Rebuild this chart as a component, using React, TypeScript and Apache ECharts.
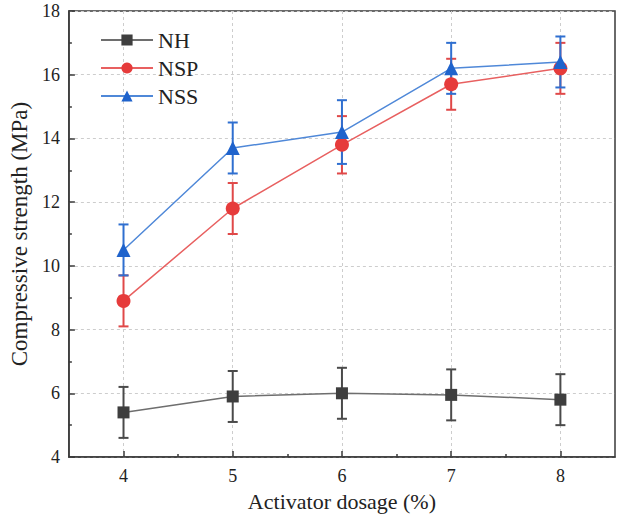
import React, { useEffect, useRef } from "react";
import * as echarts from "echarts";

const dosage = [4, 5, 6, 7, 8];
const nhMean = [5.4, 5.9, 6.0, 5.95, 5.8];
const nhErr = [0.8, 0.8, 0.8, 0.8, 0.8];
const nspMean = [8.9, 11.8, 13.8, 15.7, 16.2];
const nspErr = [0.8, 0.8, 0.9, 0.8, 0.8];
const nssMean = [10.5, 13.7, 14.2, 16.2, 16.4];
const nssErr = [0.8, 0.8, 1.0, 0.8, 0.8];
const xLabels = [4, 5, 6, 7, 8];
const xMinor = [4.5, 5.5, 6.5, 7.5];

const FONT = "Liberation Serif";

function errorSeries(name: string, mean: number[], err: number[], color: string) {
  return {
    type: "custom",
    name,
    z: 3,
    data: dosage.map((x, i) => [x, mean[i] - err[i], mean[i] + err[i]]),
    encode: { x: 0, y: [1, 2] },
    renderItem: (params: any, api: any) => {
      const x = api.value(0);
      const lo = api.coord([x, api.value(1)]);
      const hi = api.coord([x, api.value(2)]);
      const cap = 5;
      const style = { stroke: color, lineWidth: 2 };
      return {
        type: "group",
        children: [
          { type: "line", shape: { x1: lo[0], y1: lo[1], x2: hi[0], y2: hi[1] }, style },
          { type: "line", shape: { x1: lo[0] - cap, y1: lo[1], x2: lo[0] + cap, y2: lo[1] }, style },
          { type: "line", shape: { x1: hi[0] - cap, y1: hi[1], x2: hi[0] + cap, y2: hi[1] }, style },
        ],
      };
    },
  };
}

function lineSeries(name: string, mean: number[], symbol: string, size: number, markerColor: string, lineColor: string) {
  return {
    type: "line",
    name,
    z: 4,
    data: dosage.map((x, i) => [x, mean[i]]),
    symbol,
    symbolSize: size,
    showAllSymbol: true,
    itemStyle: { color: markerColor },
    lineStyle: { color: lineColor, width: 1.5 },
  };
}

export default function App() {
  const ref = useRef<HTMLDivElement>(null);
  useEffect(() => {
    if (!ref.current) return;
    const chart = echarts.init(ref.current, null, { renderer: "svg" });
    const splitStyle = { show: true, lineStyle: { color: "#cdcdcd", type: [3, 3], width: 1 } };
    chart.setOption({
      animation: false,
      backgroundColor: "#ffffff",
      textStyle: { fontFamily: FONT },
      grid: {
        left: 66,
        right: 5,
        top: 11,
        bottom: 68,
        show: true,
        borderColor: "#3a3a3a",
        borderWidth: 1.5,
        backgroundColor: "transparent",
      },
      legend: {
        orient: "vertical",
        left: 95,
        top: 24,
        itemWidth: 52,
        itemHeight: 14,
        itemGap: 6,
        data: ["NH", "NSP", "NSS"],
        textStyle: { fontFamily: FONT, fontSize: 22, color: "#222" },
      },
      xAxis: [
        {
          type: "value",
          min: 3.5,
          max: 8.5,
          name: "Activator dosage (%)",
          nameLocation: "middle",
          nameGap: 33,
          nameTextStyle: { fontFamily: FONT, fontSize: 22, color: "#222" },
          axisLine: { show: true, lineStyle: { color: "#3a3a3a", width: 1.5 } },
          axisTick: { show: true, inside: true, length: 6, customValues: xLabels, lineStyle: { color: "#3a3a3a", width: 1.5 } },
          axisLabel: { customValues: xLabels, fontFamily: FONT, fontSize: 18, color: "#222", margin: 10 },
          splitLine: splitStyle,
        },
        {
          type: "value",
          min: 3.5,
          max: 8.5,
          position: "bottom",
          axisLine: { show: false },
          axisTick: { show: true, inside: true, length: 3, customValues: xMinor, lineStyle: { color: "#3a3a3a", width: 1.5 } },
          axisLabel: { show: false },
          splitLine: { show: false },
        },
      ],
      yAxis: {
        type: "value",
        min: 4,
        max: 18,
        interval: 2,
        name: "Compressive strength (MPa)",
        nameLocation: "middle",
        nameGap: 26,
        nameTextStyle: { fontFamily: FONT, fontSize: 23, color: "#222" },
        axisLine: { show: true, lineStyle: { color: "#3a3a3a", width: 1.5 } },
        axisTick: { show: true, inside: true, length: 6, lineStyle: { color: "#3a3a3a", width: 1.5 } },
        minorTick: { show: true, splitNumber: 2, length: 3, lineStyle: { color: "#3a3a3a", width: 1.5 } },
        axisLabel: { fontFamily: FONT, fontSize: 18, color: "#222", margin: 9 },
        splitLine: splitStyle,
      },
      series: [
        errorSeries("NH err", nhMean, nhErr, "#4a4a4a"),
        errorSeries("NSP err", nspMean, nspErr, "#e04848"),
        errorSeries("NSS err", nssMean, nssErr, "#2f6fd0"),
        lineSeries("NH", nhMean, "rect", 12, "#3e3e3e", "#6e6e6e"),
        lineSeries("NSP", nspMean, "circle", 14, "#e63b3b", "#e86060"),
        lineSeries("NSS", nssMean, "triangle", 14, "#1f63cc", "#4f88d8"),
      ],
    });
    return () => chart.dispose();
  }, []);
  return <div ref={ref} style={{ position: "fixed", left: 0, top: 0, width: 620, height: 525 }} />;
}
